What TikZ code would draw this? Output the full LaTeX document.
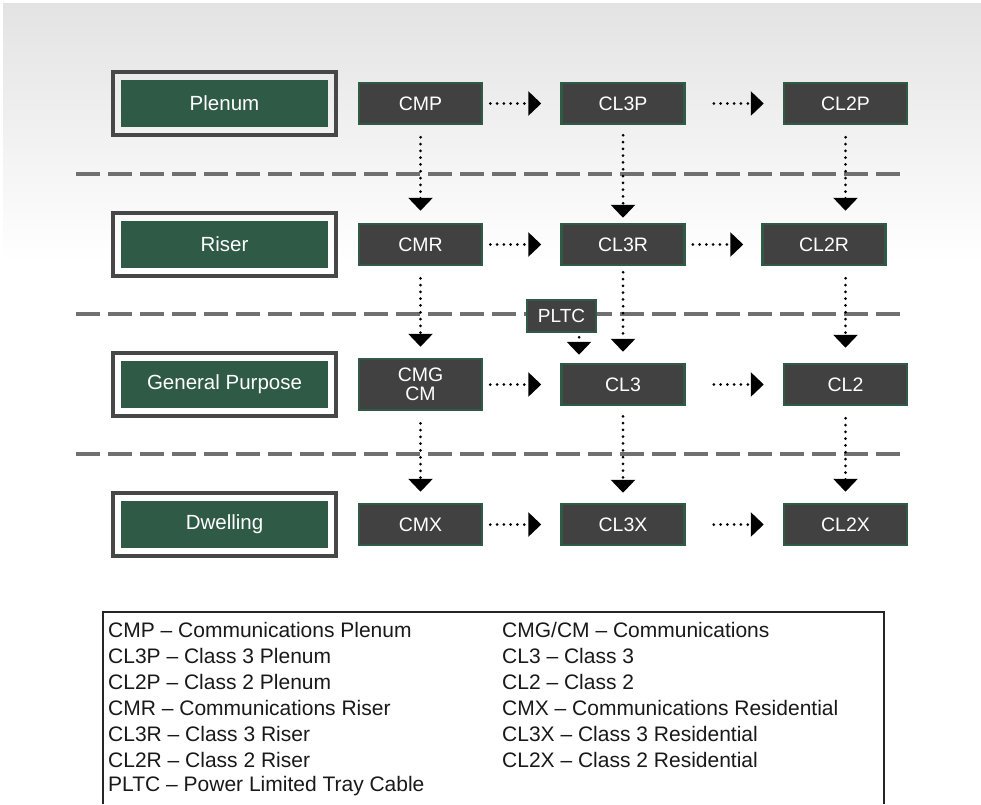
\documentclass[tikz,border=0pt]{standalone}
\usepackage{fontspec}
\setmainfont{Liberation Sans}
\usetikzlibrary{arrows.meta,positioning,calc}
\usepackage{xcolor}

\definecolor{levelgreen}{HTML}{2E5A46}
\definecolor{cablegray}{HTML}{414141}
\definecolor{framegray}{HTML}{474747}
\definecolor{dashgray}{HTML}{707070}
\definecolor{bgtop}{HTML}{E3E3E3}

\tikzset{
  level/.style={fill=levelgreen, text=white, minimum width=207pt, minimum height=47pt,
    inner sep=0pt, font=\fontsize{20.5}{24}\selectfont},
  levelframe/.style={draw=framegray, line width=3.5pt},
  cable/.style={fill=cablegray, draw=levelgreen, line width=2.5pt, text=white,
    minimum width=123pt, minimum height=41pt, inner sep=0pt, align=center,
    font=\fontsize{19.5}{18.5}\selectfont},
  flow/.style={line width=3pt, line cap=round, dash pattern=on 0pt off 6.8pt,
    -{Triangle[length=13pt,width=24pt]}},
  separator/.style={draw=dashgray, line width=3.3pt, dash pattern=on 24pt off 8pt},
  legend/.style={anchor=west, inner sep=0pt, text=black!90, font=\fontsize{21}{24}\selectfont}
}

\begin{document}
\begin{tikzpicture}[x=1pt, y=-1pt]
  \useasboundingbox (0,0) rectangle (981,804);
  \fill[white] (0,0) rectangle (981,804);
  % The grey band at the top
  \shade[top color=bgtop, bottom color=white] (3,3) rectangle (981,262);

  % Separators between the levels
  \foreach \y in {174,314,454}
    \draw[separator] (76,\y) -- (900,\y);

  % The levels
  \node[level] (plenum) at (224.5,103.5) {Plenum};
  \node[level] (riser) at (224.5,244.5) {Riser};
  \node[level] (general) at (224.5,384.5) {General Purpose};
  \node[level] (dwelling) at (224.5,524.5) {Dwelling};
  \foreach \n in {plenum,riser,general,dwelling}
    \draw[levelframe] ([shift={(-8,-8)}]\n.north west) rectangle ([shift={(8,8)}]\n.south east);

  % The cable types
  \node[cable] (cmp) at (420.5,103.5) {CMP};
  \node[cable] (cl3p) at (623,103.5) {CL3P};
  \node[cable] (cl2p) at (845.5,103.5) {CL2P};
  \node[cable] (cmr) at (420.5,244.5) {CMR};
  \node[cable] (cl3r) at (623,244.5) {CL3R};
  \node[cable] (cl2r) at (824,244.5) {CL2R};
  \node[cable, minimum height=51pt] (cmg) at (420.5,384.5) {CMG\\CM};
  \node[cable] (cl3) at (623,384.5) {CL3};
  \node[cable] (cl2) at (845.5,384.5) {CL2};
  \node[cable] (cmx) at (420.5,524.5) {CMX};
  \node[cable] (cl3x) at (623,524.5) {CL3X};
  \node[cable] (cl2x) at (845.5,524.5) {CL2X};
  \node[cable, minimum width=69pt, minimum height=32pt, font=\fontsize{19}{20}\selectfont]
    (pltc) at (561.5,316) {PLTC};

  % Substitutions along a level
  \draw[flow, shorten <=7pt, shorten >=19pt] (cmp) -- (cl3p);
  \draw[flow, shorten <=28pt, shorten >=19pt] (cl3p) -- (cl2p);
  \draw[flow, shorten <=7pt, shorten >=19pt] (cmr) -- (cl3r);
  \draw[flow, shorten <=7pt, shorten >=18pt] (cl3r) -- (cl2r);
  \draw[flow, shorten <=7pt, shorten >=19pt] (cmg) -- (cl3);
  \draw[flow, shorten <=28pt, shorten >=19pt] (cl3) -- (cl2);
  \draw[flow, shorten <=7pt, shorten >=19pt] (cmx) -- (cl3x);
  \draw[flow, shorten <=28pt, shorten >=19pt] (cl3x) -- (cl2x);

  % Substitutions down the levels
  \draw[flow, shorten <=12pt, shorten >=12pt] (cmp) -- (cmr);
  \draw[flow, shorten <=10pt, shorten >=5pt] (cl3p) -- (cl3r);
  \draw[flow, shorten <=12pt, shorten >=12pt] (cl2p) -- (cl2p |- cl2r.north);
  \draw[flow, shorten <=12pt, shorten >=11pt] (cmr) -- (cmg);
  \draw[flow, shorten <=6pt, shorten >=11pt] (cl3r) -- (cl3);
  \draw[flow, shorten <=12pt, shorten >=15pt] (cl2r.south -| cl2) -- (cl2);
  \coordinate (pltc-out) at ([xshift=17.5pt]pltc.south);
  \draw[flow, shorten <=4pt, shorten >=8pt] (pltc-out) -- (pltc-out |- cl3.north);
  \draw[flow, shorten <=12pt, shorten >=11pt] (cmg) -- (cmx);
  \draw[flow, shorten <=10pt, shorten >=10pt] (cl3) -- (cl3x);
  \draw[flow, shorten <=12pt, shorten >=11pt] (cl2) -- (cl2x);

  % The key
  \draw[line width=1.5pt, draw=black!85] (103,804) -- (103,612) -- (884,612) -- (884,804);
  \foreach \entry [count=\i from 0] in {CMP -- Communications Plenum, CL3P -- Class 3 Plenum,
      CL2P -- Class 2 Plenum, CMR -- Communications Riser, CL3R -- Class 3 Riser,
      CL2R -- Class 2 Riser, PLTC -- Power Limited Tray Cable}
    \node[legend] (key-l\i) at (108,{630+26*\i}) {\entry};
  \foreach \entry [count=\i from 0] in {CMG/CM -- Communications, CL3 -- Class 3,
      CL2 -- Class 2, CMX -- Communications Residential, CL3X -- Class 3 Residential,
      CL2X -- Class 2 Residential}
    \node[legend] (key-r\i) at (502,{630+26*\i}) {\entry};
\end{tikzpicture}
\end{document}
